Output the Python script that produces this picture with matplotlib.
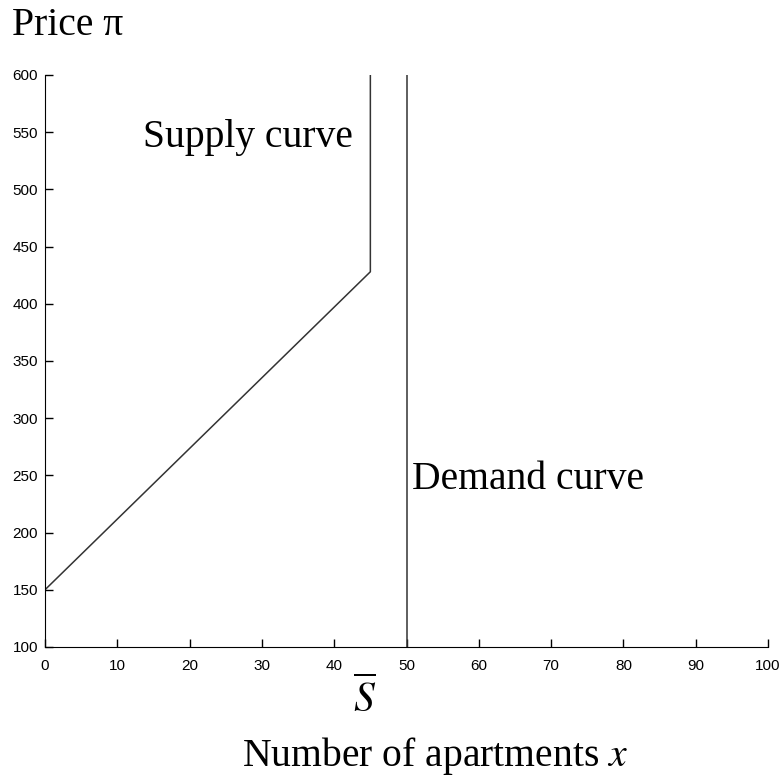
import matplotlib
matplotlib.use('Agg')
import matplotlib.pyplot as plt

# supply curve: rises linearly, then vertical at the fixed stock S-bar
supply_x = [0, 45, 45]
supply_y = [150, 428, 600]
# demand curve: vertical
demand_x = [50, 50]
demand_y = [100, 600]

xticks = [0, 10, 20, 30, 40, 50, 60, 70, 80, 90, 100]
yticks = [100, 150, 200, 250, 300, 350, 400, 450, 500, 550, 600]

plt.rcParams['mathtext.fontset'] = 'stix'

fig = plt.figure(figsize=(7.81, 7.78), dpi=100)
ax = fig.add_axes([0.0576, 0.1684, 0.9258, 0.7352])

ax.plot(supply_x, supply_y, color='#333333', lw=1.1)
ax.plot(demand_x, demand_y, color='#333333', lw=1.1)

ax.set_xlim(0, 100)
ax.set_ylim(100, 600)
ax.set_xticks(xticks)
ax.set_yticks(yticks)
ax.tick_params(direction='in', length=6, width=1, labelsize=11)
ax.tick_params(axis='x', pad=9)
ax.tick_params(axis='y', pad=5)
for lab in ax.get_xticklabels() + ax.get_yticklabels():
    lab.set_family('Liberation Sans')
ax.spines['top'].set_visible(False)
ax.spines['right'].set_visible(False)

serif = 'Liberation Serif'
ax.text(13.6, 537, 'Supply curve', family=serif, fontsize=28.5, va='baseline')
ax.text(50.7, 238, 'Demand curve', family=serif, fontsize=28.5, va='baseline')

fig.text(12 / 781, 1 - 35 / 778, 'Price \u03c0', family=serif, fontsize=28.5, va='baseline')
fig.text(364.5 / 781, 1 - 699 / 778, r'$\overline{S}$', fontsize=30, ha='center', va='center')
fig.text(435 / 781, 1 - 766 / 778, 'Number of apartments $x$', family=serif,
         fontsize=28.5, ha='center', va='baseline')

fig.savefig('out.png', dpi=100)
